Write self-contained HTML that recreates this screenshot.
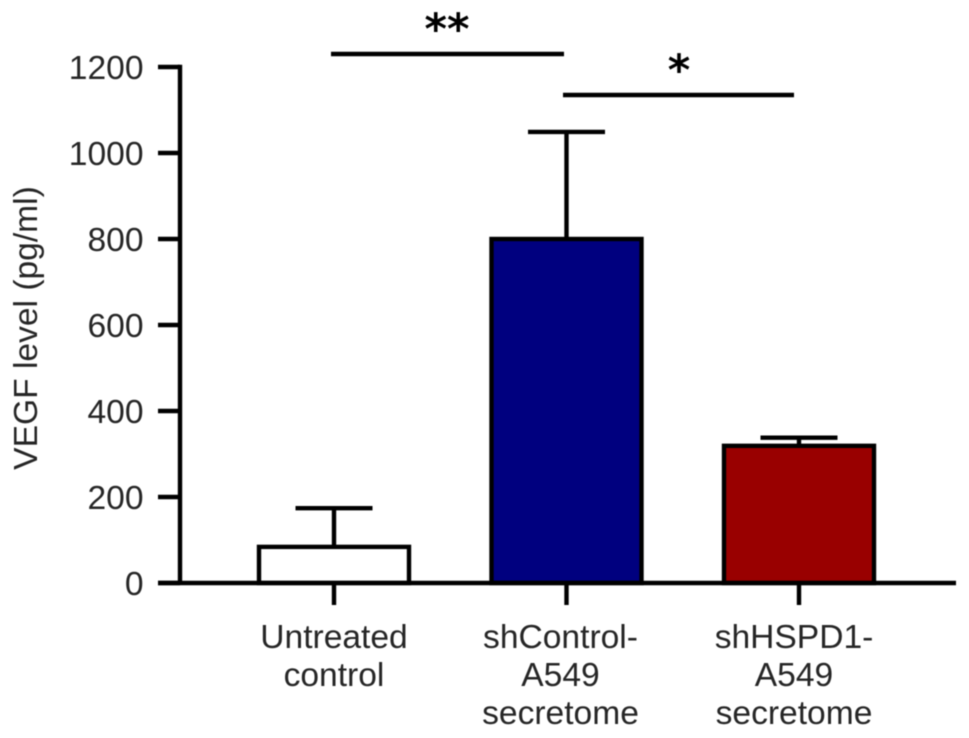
<!DOCTYPE html>
<html>
<head>
<meta charset="utf-8">
<title>VEGF level bar chart</title>
<style>
html,body{margin:0;padding:0;background:#fff;}
#chart{display:block;width:969px;height:738px;filter:blur(0.45px);}
text{font-family:"Liberation Sans",Arial,sans-serif;font-size:33.6px;fill:#262626;}
.star{font-family:"DejaVu Sans",sans-serif;font-weight:bold;font-size:43px;fill:#000;text-anchor:middle;}
</style>
</head>
<body>
<svg id="chart" xmlns="http://www.w3.org/2000/svg" width="969" height="738" viewBox="0 0 969 738">
<rect x="0" y="0" width="969" height="738" fill="#ffffff"/>
<text transform="translate(37 328) rotate(-90)" text-anchor="middle">VEGF level (pg/ml)</text>
<g id="plot"></g>
<line x1="331" y1="54" x2="564" y2="54" stroke="#000" stroke-width="4.4"/>
<line x1="563" y1="95" x2="794" y2="95" stroke="#000" stroke-width="4.4"/>
<text class="star" x="447" y="44">**</text>
<text class="star" x="679" y="85">*</text>
</svg>
<script>
const categories = [["Untreated", "control"], ["shControl-", "A549", "secretome"], ["shHSPD1-", "A549", "secretome"]];
const barValues = [84, 800, 319];
const errorTops = [174, 1049, 338];
const barColors = ["#ffffff", "#00007f", "#990000"];
const yTicks = [0, 200, 400, 600, 800, 1000, 1200];
const yTickLabels = ["0", "200", "400", "600", "800", "1000", "1200"];

const SVGNS = "http://www.w3.org/2000/svg";
const plot = document.getElementById("plot");
const yScale = function (v) { return 583 - v * (516 / 1200); };
const xScale = function (i) { return 334 + i * 232.5; };
const barWidth = 152;
const capWidth = 77;
const stroke = "#000000";
const lineW = 4.4;

function make(tag, attrs, text) {
  const el = document.createElementNS(SVGNS, tag);
  for (const k in attrs) el.setAttribute(k, attrs[k]);
  if (text !== undefined) el.textContent = text;
  plot.appendChild(el);
  return el;
}

yTicks.forEach(function (t, i) {
  const y = yScale(t);
  const tick = make("line", { x1: 158, y1: y, x2: 180, y2: y, stroke: stroke, "stroke-width": lineW });
  
  
  const label = make("text", { x: 143.5, y: y + 12, "text-anchor": "end" }, yTickLabels[i]);
  
  
});

categories.forEach(function (lines, i) {
  const cx = xScale(i);
  const top = yScale(barValues[i]);
  const errTop = yScale(errorTops[i]);

  const stem = make("line", { x1: cx, y1: errTop, x2: cx, y2: top, stroke: stroke, "stroke-width": lineW });
  
  

  const cap = make("line", { x1: cx - capWidth / 2, y1: errTop, x2: cx + capWidth / 2, y2: errTop, stroke: stroke, "stroke-width": lineW });
  
  

  const bar = make("rect", { x: cx - barWidth / 2 + 1, y: top, width: barWidth - 2, height: yScale(0) - top, fill: barColors[i], stroke: stroke, "stroke-width": lineW });
  
  

  const tick = make("line", { x1: cx, y1: 583, x2: cx, y2: 605, stroke: stroke, "stroke-width": lineW });
  
  

  lines.forEach(function (line, j) {
    const label = make("text", { x: cx - (i === 0 ? 0 : 6 + (i === 2 ? -1 : 0)), y: 648 + j * 38, "text-anchor": "middle" }, line);
    
    
  });
});

const yAxis = make("line", { x1: 180, y1: yScale(1200) - 2.2, x2: 180, y2: 585, stroke: stroke, "stroke-width": lineW });



const xAxis = make("line", { x1: 158, y1: 583, x2: 956, y2: 583, stroke: stroke, "stroke-width": lineW });


</script>
</body>
</html>
